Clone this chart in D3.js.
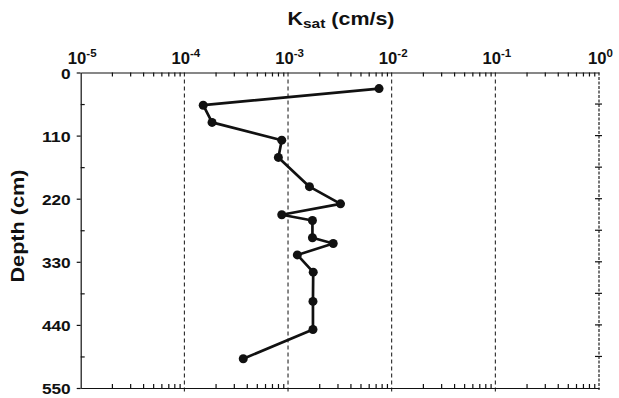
<!DOCTYPE html>
<meta charset="utf-8">
<style>
    body { margin: 0; background: #fff; }
    svg text { font-family: "Liberation Sans", Arial, sans-serif; font-weight: bold; fill: #111; }
    .axis path, .axis line { stroke: #111; stroke-width: 1.2; }
</style>
<svg class="ksat-chart"></svg>
<script src="https://cdn.jsdelivr.net/npm/d3@7"></script>
<script>
    // depth of each sample (cm) and its saturated hydraulic conductivity (cm/s)
    var depths = [28, 57, 87, 118, 148, 199, 229, 248, 258, 288, 298, 318, 348, 399, 448, 499];
    var ksat = [7.55e-3, 1.52e-4, 1.85e-4, 8.7e-4, 8.07e-4, 1.61e-3, 3.21e-3, 8.7e-4,
        1.72e-3, 1.72e-3, 2.73e-3, 1.23e-3, 1.75e-3, 1.74e-3, 1.74e-3, 3.70e-4];
    var decadeExponents = [-5, -4, -3, -2, -1, 0];
    var depthTicks = [0, 110, 220, 330, 440, 550];
    var depthMinorTicks = [55, 165, 275, 385, 495];

    var width = 619,
        height = 398,
        plotLeft = 80.7,
        plotRight = 599,
        plotTop = 72.5,
        plotBottom = 388;

    var svg = d3.select(".ksat-chart")
        .attr("width", width)
        .attr("height", height);

    var x = d3.scaleLog()
        .domain([1e-5, 1])
        .range([plotLeft, plotRight]);

    var y = d3.scaleLinear()
        .domain([0, 550])
        .range([plotTop, plotBottom]);

    var majors = decadeExponents.map(function (e) { return Math.pow(10, e); });
    var minors = [];
    decadeExponents.slice(0, -1).forEach(function (e) {
        for (var m = 2; m <= 9; m++) minors.push(m * Math.pow(10, e));
    });

    // dashed decade lines
    svg.append("g").selectAll("line")
        .data(majors.slice(1, -1))
        .enter().append("line")
        .attr("x1", function (d) { return x(d); })
        .attr("x2", function (d) { return x(d); })
        .attr("y1", plotTop)
        .attr("y2", plotBottom + 4)
        .attr("stroke", "#111")
        .attr("stroke-width", 1)
        .attr("stroke-dasharray", "4,3");

    // right border: grey dashed
    svg.append("line")
        .attr("x1", x(1)).attr("x2", x(1))
        .attr("y1", plotTop).attr("y2", plotBottom + 2)
        .attr("stroke", "#777")
        .attr("stroke-width", 2)
        .attr("stroke-dasharray", "3,1.5");

    // top axis: minor ticks pointing inward
    svg.append("g")
        .attr("class", "axis")
        .attr("transform", "translate(0," + plotTop + ")")
        .call(d3.axisTop(x).tickValues(minors).tickSize(-4).tickSizeOuter(0).tickFormat(""));

    // bottom axis: minor ticks inward
    svg.append("g")
        .attr("class", "axis")
        .attr("transform", "translate(0," + plotBottom + ")")
        .call(d3.axisBottom(x).tickValues(minors).tickSize(-4).tickSizeOuter(0).tickFormat(""));

    // top decade labels as 10^n
    var labels = svg.append("g").selectAll("text")
        .data(decadeExponents)
        .enter().append("text")
        .attr("x", function (e) { return x(Math.pow(10, e)) + 1.5; })
        .attr("y", 63.5)
        .attr("text-anchor", "middle")
        .style("font-size", "16px");
    labels.append("tspan")
        .attr("textLength", 18.5)
        .attr("lengthAdjust", "spacingAndGlyphs")
        .text("10");
    labels.append("tspan")
        .attr("dy", -6.5)
        .style("font-size", "11.5px")
        .text(function (e) { return e; });

    // left axis: major ticks out with labels, minor ticks in
    var yAxis = svg.append("g")
        .attr("class", "axis")
        .attr("transform", "translate(" + plotLeft + ",0)");
    yAxis.call(d3.axisLeft(y).tickValues(depthTicks).tickSize(4).tickSizeOuter(0).tickPadding(6));
    yAxis.selectAll("text")
        .style("font-size", "15.5px")
        .attr("dy", "0.36em")
        .attr("lengthAdjust", "spacingAndGlyphs")
        .attr("textLength", function (d) { return String(d).length * 9.6; });
    yAxis.append("g")
        .call(d3.axisLeft(y).tickValues(depthMinorTicks).tickSize(-4).tickSizeOuter(0).tickFormat(""))
        .select(".domain").remove();

    // right side ticks crossing the border
    svg.append("g").selectAll("line")
        .data(depthMinorTicks.concat(depthTicks.slice(1, -1)))
        .enter().append("line")
        .attr("x1", plotRight - 4)
        .attr("x2", plotRight + 3)
        .attr("y1", function (d) { return y(d); })
        .attr("y2", function (d) { return y(d); })
        .attr("stroke", "#111")
        .attr("stroke-width", 1.2);

    // profile
    var points = depths.map(function (d, i) { return { depth: d, k: ksat[i] }; });

    svg.append("path")
        .datum(points)
        .attr("fill", "none")
        .attr("stroke", "#111")
        .attr("stroke-width", 2.7)
        .attr("stroke-linejoin", "round")
        .attr("d", d3.line()
            .x(function (d) { return x(d.k); })
            .y(function (d) { return y(d.depth); }));

    svg.append("g").selectAll("circle")
        .data(points)
        .enter().append("circle")
        .attr("cx", function (d) { return x(d.k); })
        .attr("cy", function (d) { return y(d.depth); })
        .attr("r", 4.5)
        .attr("fill", "#111");

    // titles
    var title = svg.append("text")
        .attr("x", 341)
        .attr("y", 25)
        .attr("text-anchor", "middle")
        .attr("textLength", 107)
        .attr("lengthAdjust", "spacingAndGlyphs")
        .style("font-size", "18px");
    title.append("tspan").text("K");
    title.append("tspan").attr("dy", 3).style("font-size", "13px").text("sat");
    title.append("tspan").attr("dy", -3).text(" (cm/s)");

    svg.append("text")
        .attr("transform", "translate(24,226) rotate(-90)")
        .attr("text-anchor", "middle")
        .style("font-size", "19px")
        .attr("textLength", 113)
        .attr("lengthAdjust", "spacingAndGlyphs")
        .text("Depth (cm)");
</script>
